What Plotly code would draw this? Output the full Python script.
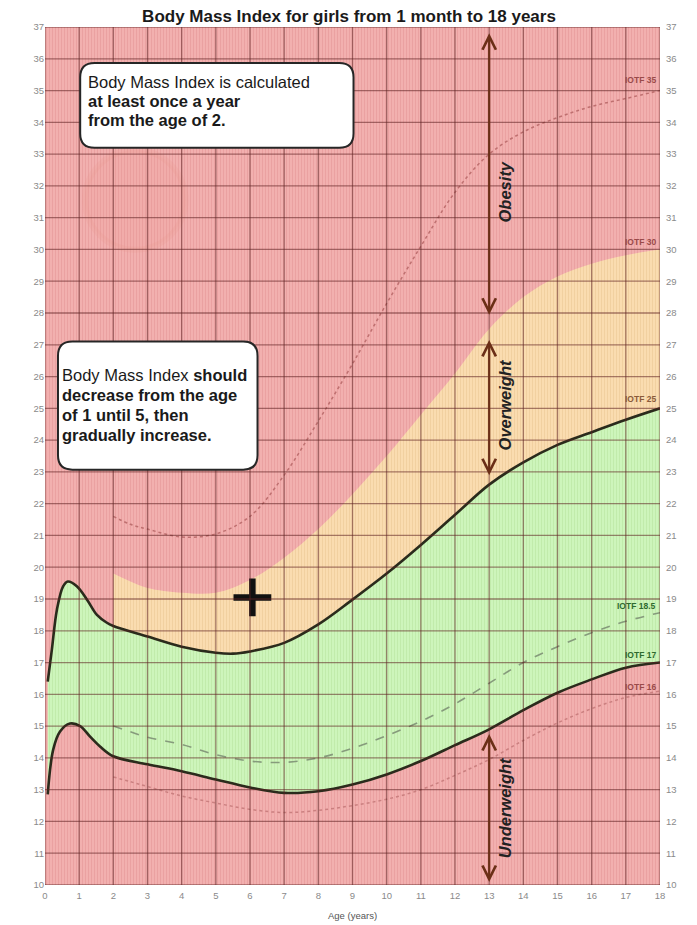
import plotly.graph_objects as go

# ---------------- data ----------------
AGE_TOP = [0.08, 0.2, 0.35, 0.53, 0.67, 0.93, 1.23, 1.52, 1.8, 2.0, 3, 4, 5, 5.5, 6, 7, 8, 9, 10, 11, 12, 13, 14, 15, 16, 17, 18]
BMI_TOP = [16.4, 17.4, 18.67, 19.4, 19.55, 19.4, 18.98, 18.5, 18.26, 18.15, 17.82, 17.5, 17.31, 17.28, 17.35, 17.62, 18.2, 18.98, 19.8, 20.7, 21.65, 22.6, 23.3, 23.85, 24.25, 24.64, 25.0]

AGE_LOW = [0.08, 0.24, 0.44, 0.73, 1.03, 1.32, 1.61, 2.0, 3, 4, 5, 6, 7, 8, 9, 10, 11, 12, 13, 14, 15, 16, 17, 18]
BMI_LOW = [12.85, 14.26, 14.83, 15.08, 15.0, 14.67, 14.36, 14.05, 13.8, 13.58, 13.32, 13.07, 12.9, 12.95, 13.16, 13.48, 13.9, 14.4, 14.9, 15.5, 16.05, 16.47, 16.84, 17.0]

AGE_IOTF = [2, 2.5, 3, 4, 5, 6, 7, 8, 9, 10, 11, 12, 13, 14, 15, 16, 17, 18]
IOTF30 = [19.8, 19.55, 19.35, 19.2, 19.2, 19.6, 20.3, 21.2, 22.3, 23.5, 24.8, 26.1, 27.5, 28.5, 29.15, 29.55, 29.82, 30.0]
IOTF35 = [21.6, 21.35, 21.2, 20.95, 21.05, 21.6, 22.9, 24.6, 26.4, 28.3, 30.1, 31.8, 33.0, 33.7, 34.15, 34.5, 34.75, 35.0]
IOTF185 = [15.0, 14.82, 14.65, 14.42, 14.1, 13.9, 13.86, 14.0, 14.3, 14.7, 15.15, 15.7, 16.35, 17.0, 17.5, 17.94, 18.3, 18.57]
IOTF16 = [13.4, 13.25, 13.1, 12.8, 12.58, 12.38, 12.28, 12.35, 12.5, 12.7, 13.0, 13.45, 13.95, 14.55, 15.1, 15.55, 15.9, 16.1]

CURVE_LABELS = ["IOTF 35", "IOTF 30", "IOTF 25", "IOTF 18.5", "IOTF 17", "IOTF 16"]
CURVE_LABEL_Y = [35.32, 30.24, 25.28, 18.77, 17.24, 16.24]
CURVE_LABEL_COL = ["#9a4a4a", "#9a4a4a", "#8a5a3a", "#2f6a2f", "#2f6a2f", "#9a4a4a"]

ZONES = ["Obesity", "Overweight", "Underweight"]
ZONE_TOP = [36.8, 27.15, 14.75]
ZONE_BOT = [27.9, 22.85, 10.05]
ZONE_LABEL_Y = [31.8, 25.1, 12.42]
ZONE_AGE = 13
MARK_AGE = [6.07]
MARK_BMI = [19.05]

BOX1_LINES = ["Body Mass Index is calculated", "<b>at least once a year</b>", "<b>from the age of 2.</b>"]
BOX1_Y = [35.27, 34.67, 34.08]
BOX2_LINES = ["Body Mass Index <b>should</b>", "<b>decrease from the age</b>", "<b>of 1 until 5, then</b>", "<b>gradually increase.</b>"]
BOX2_Y = [26.06, 25.43, 24.80, 24.17]

X_TICKS = list(range(0, 19))
Y_TICKS = list(range(10, 38))

PINK = "#f2b0af"
GREEN = "#cdf5bb"
PEACH = "#fadcb0"

# ---------------- figure ----------------
fig = go.Figure()

def pat(bg, fg):
    return dict(shape="|", size=3, solidity=0.3, fgcolor=fg, bgcolor=bg, fillmode="replace")

fig.add_trace(go.Scatter(x=[0, 18, 18, 0], y=[10, 10, 37, 37], fill="toself", mode="none",
                         fillcolor=PINK, fillpattern=pat(PINK, "#e99f9f"), hoverinfo="skip", showlegend=False))
fig.add_trace(go.Scatter(x=AGE_LOW, y=BMI_LOW, mode="lines", line=dict(width=0, shape="spline"),
                         hoverinfo="skip", showlegend=False))
fig.add_trace(go.Scatter(x=AGE_TOP, y=BMI_TOP, mode="lines", line=dict(width=0, shape="spline"),
                         fill="tonexty", fillcolor=GREEN, fillpattern=pat(GREEN, "#bfeaa9"),
                         hoverinfo="skip", showlegend=False))
i2 = AGE_TOP.index(2.0)
fig.add_trace(go.Scatter(x=AGE_TOP[i2:], y=BMI_TOP[i2:], mode="lines", line=dict(width=0, shape="spline"),
                         hoverinfo="skip", showlegend=False))
fig.add_trace(go.Scatter(x=AGE_IOTF, y=IOTF30, mode="lines", line=dict(width=0, shape="spline"),
                         fill="tonexty", fillcolor=PEACH, fillpattern=pat(PEACH, "#f0cf9e"),
                         hoverinfo="skip", showlegend=False))

fig.add_trace(go.Scatter(x=AGE_IOTF, y=IOTF35, mode="lines",
                         line=dict(color="rgba(185,105,105,0.9)", width=1.5, dash="dot", shape="spline"),
                         showlegend=False))
fig.add_trace(go.Scatter(x=AGE_IOTF, y=IOTF185, mode="lines",
                         line=dict(color="rgba(130,150,120,0.95)", width=1.6, dash="dash", shape="spline"),
                         showlegend=False))
fig.add_trace(go.Scatter(x=AGE_IOTF, y=IOTF16, mode="lines",
                         line=dict(color="rgba(200,125,125,0.95)", width=1.5, dash="dot", shape="spline"),
                         showlegend=False))
for xs, ys in [(AGE_TOP, BMI_TOP), (AGE_LOW, BMI_LOW)]:
    fig.add_trace(go.Scatter(x=xs, y=ys, mode="lines",
                             line=dict(color="#2b2b1c", width=2.6, shape="spline"), showlegend=False))

fig.add_trace(go.Scatter(x=MARK_AGE, y=MARK_BMI, mode="markers",
                         marker=dict(symbol="cross-thin", size=27, line=dict(width=6.5, color="#111111")),
                         showlegend=False))

fig.add_trace(go.Scatter(x=[0], y=[10], yaxis="y2", mode="markers", marker=dict(opacity=0),
                         hoverinfo="skip", showlegend=False))

shapes = []
shapes.append(dict(type="circle", xref="x", yref="y", x0=1.17, x1=4.11, y0=29.99, y1=33.13,
                   fillcolor="rgba(240,150,140,0.12)", line=dict(width=6, color="rgba(235,150,140,0.18)"),
                   layer="above"))
GRID = "rgba(95,35,35,0.55)"
for xv in X_TICKS:
    shapes.append(dict(type="line", xref="x", yref="y", x0=xv, x1=xv, y0=10, y1=37,
                       line=dict(color=GRID, width=1.3), layer="above"))
for yv in Y_TICKS:
    shapes.append(dict(type="line", xref="x", yref="y", x0=0, x1=18, y0=yv, y1=yv,
                       line=dict(color=GRID, width=1.3), layer="above"))

def rounded(x0, y0, x1, y1, rx, ry):
    return (f"M {x0+rx},{y0} L {x1-rx},{y0} Q {x1},{y0} {x1},{y0+ry} "
            f"L {x1},{y1-ry} Q {x1},{y1} {x1-rx},{y1} L {x0+rx},{y1} Q {x0},{y1} {x0},{y1-ry} "
            f"L {x0},{y0+ry} Q {x0},{y0} {x0+rx},{y0} Z")

for (bx0, by0, bx1, by1) in [(1.03, 33.2, 9.03, 35.87), (0.38, 23.07, 6.22, 27.1)]:
    shapes.append(dict(type="path", xref="x", yref="y", path=rounded(bx0, by0, bx1, by1, 0.42, 0.45),
                       fillcolor="white", line=dict(color="#262626", width=2), layer="above"))

annotations = []
FONT = "Liberation Sans, Arial, sans-serif"
for txt, ly in zip(BOX1_LINES, BOX1_Y):
    annotations.append(dict(x=1.2, y=ly, xref="x", yref="y", xanchor="left", yanchor="middle",
                            showarrow=False, text=txt, font=dict(family=FONT, size=16.5, color="#1a1a1a")))
for txt, ly in zip(BOX2_LINES, BOX2_Y):
    annotations.append(dict(x=0.44, y=ly, xref="x", yref="y", xanchor="left", yanchor="middle",
                            showarrow=False, text=txt, font=dict(family=FONT, size=16.5, color="#1a1a1a")))

for name, top, bot, ly in zip(ZONES, ZONE_TOP, ZONE_BOT, ZONE_LABEL_Y):
    annotations.append(dict(x=ZONE_AGE, y=top, ax=ZONE_AGE, ay=bot, xref="x", yref="y", axref="x", ayref="y",
                            text="", showarrow=True, arrowside="end+start", arrowhead=5, startarrowhead=5,
                            arrowsize=1.2, startarrowsize=1.2, arrowwidth=2.2, arrowcolor="#6b2f17"))
    annotations.append(dict(x=ZONE_AGE + 0.47, y=ly, xref="x", yref="y", showarrow=False, textangle=-90,
                            text=f"<b><i>{name}</i></b>", font=dict(family=FONT, size=16.5, color="#222222")))

for lab, ly, col in zip(CURVE_LABELS, CURVE_LABEL_Y, CURVE_LABEL_COL):
    annotations.append(dict(x=17.95, y=ly, xref="x", yref="y", xanchor="right", yanchor="middle",
                            showarrow=False, text=f"<b>{lab}</b>", font=dict(family=FONT, size=8.5, color=col)))

annotations.append(dict(x=0.5, y=-0.035, xref="paper", yref="paper", showarrow=False, yanchor="middle",
                        text="Age (years)", font=dict(family=FONT, size=9.5, color="#555555")))

TICKFONT = dict(family=FONT, size=9.5, color="#8a8a8a")
W, H = 689, 917
fig.update_layout(
    width=W, height=H,
    margin=dict(l=37, r=37, t=19, b=40),
    paper_bgcolor="white", plot_bgcolor="white",
    title=dict(text="<b>Body Mass Index for girls from 1 month to 18 years</b>", x=(349 - 8) / W, xanchor="center",
               y=1, yanchor="top", pad=dict(t=2, b=0), font=dict(family=FONT, size=17, color="#1a1a1a")),
    xaxis=dict(range=[0, 18], tickvals=X_TICKS, showgrid=False, zeroline=False, ticks="",
               tickfont=TICKFONT, showline=False, ticklabelstandoff=3),
    yaxis=dict(range=[10, 37], tickvals=Y_TICKS, showgrid=False, zeroline=False, ticks="",
               tickfont=TICKFONT, showline=False),
    yaxis2=dict(range=[10, 37], tickvals=Y_TICKS, overlaying="y", side="right", showgrid=False,
                zeroline=False, ticks="", tickfont=TICKFONT, showline=False, ticklabelstandoff=5),
    shapes=shapes, annotations=annotations, showlegend=False,
)

fig.write_html("out.html")
